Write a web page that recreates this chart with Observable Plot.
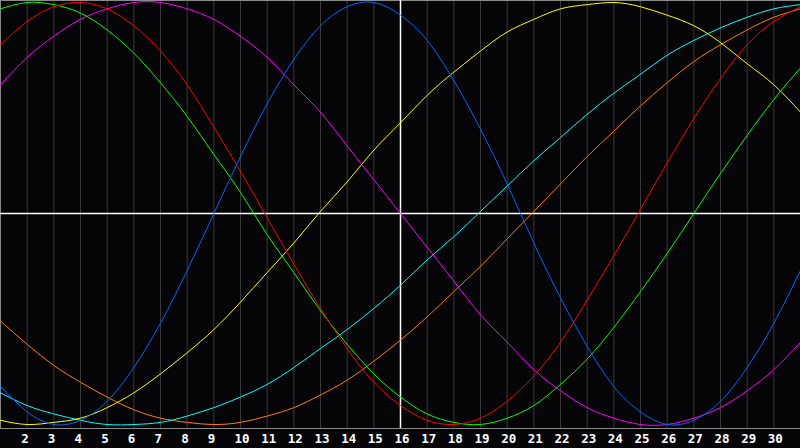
<!DOCTYPE html>
<html>
<head>
<meta charset="utf-8">
<script src="https://cdn.jsdelivr.net/npm/d3@7"></script>
<script src="https://cdn.jsdelivr.net/npm/@observablehq/plot@0.6"></script>
<style>
  html, body { margin: 0; padding: 0; background: #050507; }
  #chart { width: 800px; height: 448px; }
</style>
</head>
<body>
<div id="chart"></div>
<script>
// Days of the month (x positions)
const days = d3.range(1, 32);
// Tick labels along the bottom
const tickDays = d3.range(2, 31);
const markedDay = 16;

// Cycle values in percent, one per day 1..31
const physical   = [-82,-94,-100,-98,-89,-73,-52,-27,0,27,52,73,89,98,100,94,82,63,40,14,-14,-40,-63,-82,-94,-100,-98,-89,-73,-52,-27];
const emotional  = [80,91,98,100,97,89,77,61,41,20,-2,-24,-45,-64,-80,-91,-98,-100,-97,-89,-77,-61,-41,-20,2,24,45,64,80,91,98];
const intellectual = [97,100,99,95,87,76,62,46,28,10,-10,-28,-46,-62,-76,-87,-95,-99,-100,-97,-91,-81,-69,-54,-37,-19,0,19,37,54,69];
const intuitive  = [61,74,84,92,97,100,100,97,92,84,74,61,48,32,16,0,-16,-32,-48,-61,-74,-84,-92,-97,-100,-100,-97,-92,-84,-74,-61];
const aesthetic  = [-98,-100,-99,-97,-92,-85,-76,-66,-55,-42,-28,-14,1,15,30,43,56,67,77,86,92,97,99,100,98,94,89,81,71,61,48];
const awareness  = [-51,-62,-72,-80,-87,-93,-97,-99,-100,-99,-96,-92,-86,-79,-70,-60,-49,-37,-25,-12,1,14,27,39,51,62,72,80,87,93,97];
const spiritual  = [-85,-91,-95,-98,-100,-100,-99,-96,-92,-87,-81,-73,-64,-55,-45,-34,-22,-11,1,13,25,36,47,57,66,75,82,88,93,97,99];

const seriesNames  = ["awareness","spiritual","aesthetic","intuitive","intellectual","emotional","physical"];
const seriesColors = ["#ff7f00","#00ffff","#ffff00","#ff00ff","#00ff00","#ff0000","#0066ff"];
const seriesValues = {physical, emotional, intellectual, intuitive, aesthetic, awareness, spiritual};

const rows = seriesNames.flatMap(name =>
  seriesValues[name].map((v, i) => ({day: days[i], value: v, series: name}))
);

const chart = Plot.plot({
  width: 800,
  height: 448,
  marginTop: 0,
  marginLeft: 0,
  marginRight: 0,
  marginBottom: 20,
  style: {background: "#050507", overflow: "visible"},
  x: {domain: [1, 31], range: [0, 800], axis: null},
  y: {domain: [-100, 100], range: [424, 2], axis: null},
  color: {domain: seriesNames, range: seriesColors},
  marks: [
    Plot.ruleX(tickDays.filter(d => d !== markedDay), {stroke: "#3a3a3a", strokeWidth: 1}),
    Plot.frame({anchor: "left", stroke: "#8a8a8a"}),
    Plot.frame({anchor: "top", stroke: "#8a8a8a"}),
    Plot.frame({anchor: "bottom", stroke: "#8a8a8a"}),
    Plot.ruleY([0], {stroke: "#ffffff", strokeWidth: 1.5}),
    Plot.ruleX([markedDay], {stroke: "#ffffff", strokeWidth: 1.5}),
    Plot.line(rows, {x: "day", y: "value", z: "series", stroke: "series", strokeWidth: 1, curve: "natural"}),
    Plot.axisX(tickDays, {
      anchor: "bottom",
      label: null,
      tickSize: 0,
      tickPadding: 6,
      fontSize: 12.5,
      fontWeight: "bold",
      fontFamily: "DejaVu Sans Mono",
      fill: "#ffffff",
      textAnchor: "start",
      dx: -6,
      tickFormat: d => String(d)
    })
  ]
});

document.getElementById("chart").appendChild(chart);
</script>
</body>
</html>
